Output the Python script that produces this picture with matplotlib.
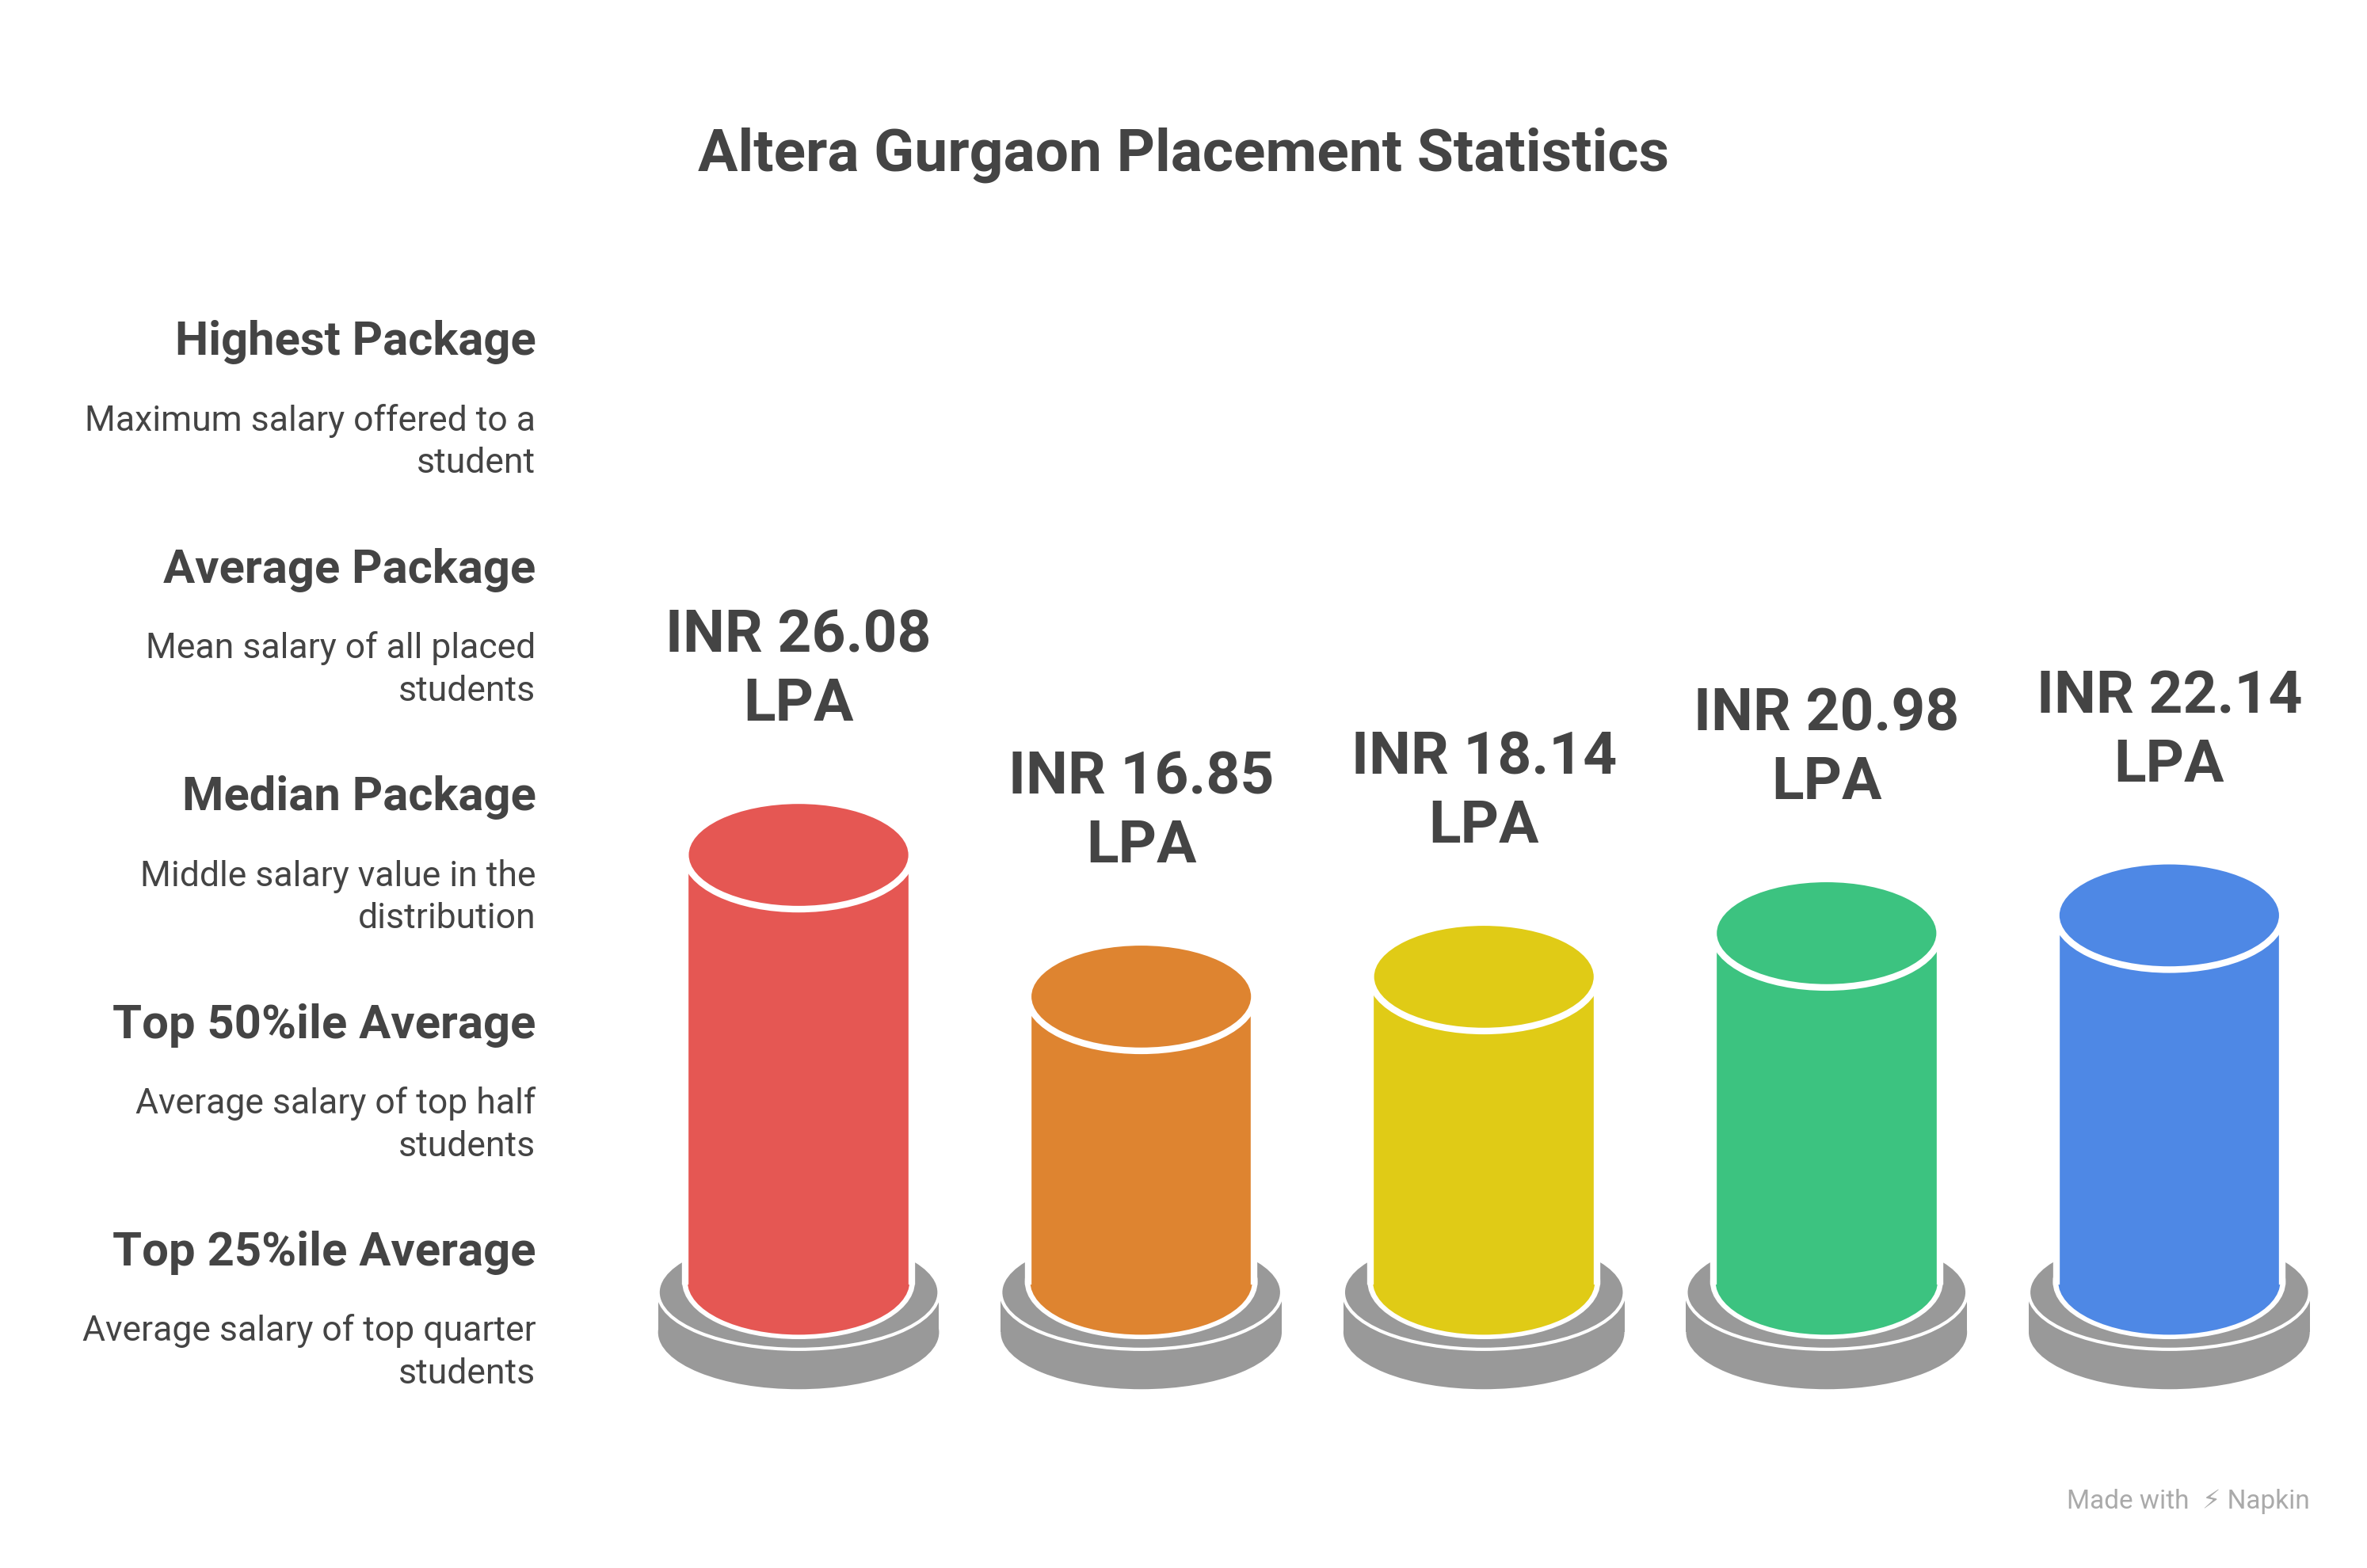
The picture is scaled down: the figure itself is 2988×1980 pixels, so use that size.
import matplotlib
matplotlib.use("Agg")
import matplotlib.pyplot as plt
from matplotlib.patches import Ellipse, Rectangle

titles = ["Highest Package", "Average Package", "Median Package", "Top 50%ile Average", "Top 25%ile Average"]
descs = ["Maximum salary offered to a\nstudent", "Mean salary of all placed\nstudents",
         "Middle salary value in the\ndistribution", "Average salary of top half\nstudents",
         "Average salary of top quarter\nstudents"]
values = [26.08, 16.85, 18.14, 20.98, 22.14]
labels = ["INR 26.08\nLPA", "INR 16.85\nLPA", "INR 18.14\nLPA", "INR 20.98\nLPA", "INR 22.14\nLPA"]
colors = ["#E55753", "#DE8430", "#E0CB16", "#3CC380", "#4E88E5"]

plt.rcParams['font.family'] = ['Roboto', 'DejaVu Sans']
W, H = 1568, 1040
fig = plt.figure(figsize=(14.94, 9.9), dpi=200)
ax = fig.add_axes([0, 0, 1, 1])
ax.set_xlim(-529/227, (W-529)/227)
ax.set_ylim(-20.38, 81.78)
ax.axis('off')

base = -1.72
ew, eh = 0.66, 7.07
pw = 0.82
tc = "#444444"
for i, (v, c, lab) in enumerate(zip(values, colors, labels)):
    ax.add_patch(Ellipse((i, base - 3.3), pw, eh*1.05, fc="#999999", ec="none", zorder=1))
    ax.add_patch(Rectangle((i - pw/2, base - 3.3), pw, 2.6, fc="#999999", ec="none", zorder=1))
    ax.add_patch(Ellipse((i, base - 0.7), pw, eh*1.05, fc="#999999", ec="white", lw=1.5, zorder=2))
    ax.add_patch(Ellipse((i, base), ew, eh, fc=c, ec="white", lw=3, zorder=3))
    ax.add_patch(Rectangle((i - ew/2, base), ew, v - base, fc=c, ec="none", zorder=4))
    ax.plot([i - ew/2, i - ew/2], [base, v], color="white", lw=3, zorder=5)
    ax.plot([i + ew/2, i + ew/2], [base, v], color="white", lw=3, zorder=5)
    ax.add_patch(Ellipse((i, base), ew - 0.012, eh - 0.15, fc=c, ec="none", zorder=4))
    ax.add_patch(Ellipse((i, v), ew, eh, fc=c, ec="white", lw=3, zorder=6))
    ax.text(i, v + 12.0, lab, ha="center", va="center", fontsize=27, fontweight="bold",
            color=tc, linespacing=1.3, zorder=7)

fig.text(784/W, 1 - 103/H, "Altera Gurgaon Placement Statistics", ha="center", va="center",
         fontsize=27, fontweight="bold", color=tc)
ty = [227, 378, 529, 680, 831]
for t, d, y in zip(titles, descs, ty):
    fig.text(355/W, 1 - y/H, t, ha="right", va="center", fontsize=21.5, fontweight="bold", color=tc)
    fig.text(355/W, 1 - (y + 66)/H, d, ha="right", va="center", fontsize=16, color=tc, linespacing=1.35)
fig.text(1530/W, 1 - 996/H, "Made with  ⚡ Napkin", ha="right", va="center", fontsize=12, color="#aaaaaa")
fig.savefig("out.png", dpi=200, facecolor="white")
